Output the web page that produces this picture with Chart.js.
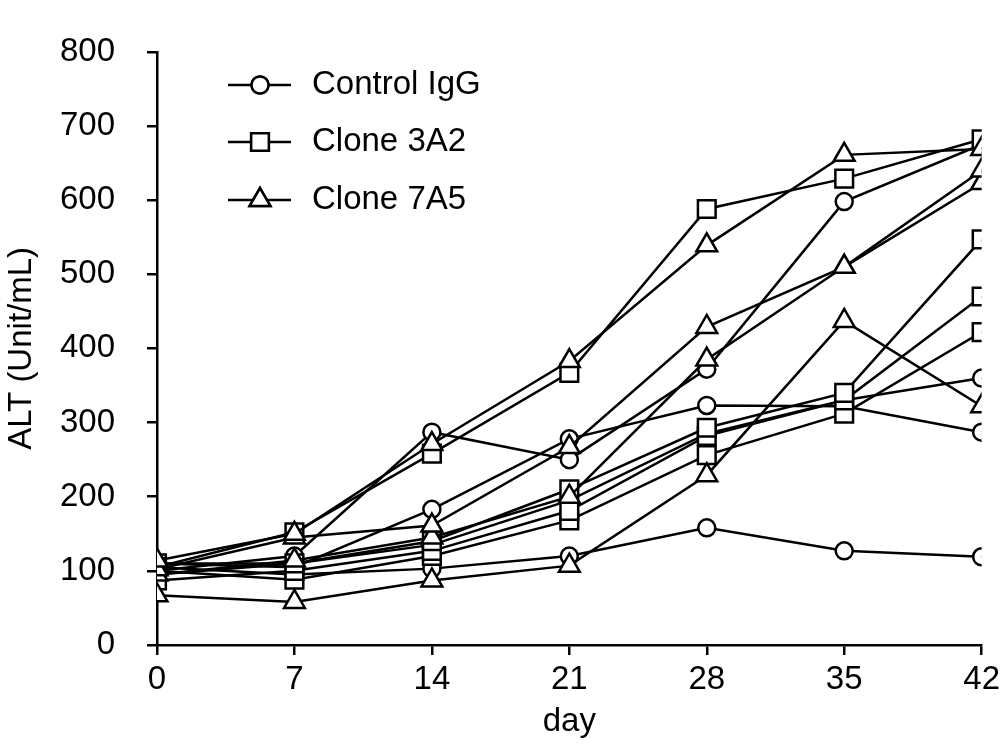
<!DOCTYPE html>
<html>
<head>
  <meta charset="utf-8" />
  <title>ALT (Unit/mL) by day</title>
  <script src="https://cdn.jsdelivr.net/npm/chart.js"></script>
  <style>
    body { margin: 0; background: #fff; }
  </style>
</head>
<body>
  <canvas id="altChart" width="1005" height="744"></canvas>

  <script>
    // x axis: sampling days
    const days = [0, 7, 14, 21, 28, 35, 42];
    const yTickStep = 100;
    const yMax = 800;

    // one legend entry per group
    const groupNames = ['Control IgG', 'Clone 3A2', 'Clone 7A5'];

    // Control IgG (circles), one array per animal
    const controlIgG1 = [100, 120, 287, 250, 372, 598, 675];
    const controlIgG2 = [110, 105, 183, 278, 323, 322, 287];
    const controlIgG3 = [95, 110, 135, 195, 285, 330, 360];
    const controlIgG4 = [105, 95, 103, 120, 158, 127, 119];

    // Clone 3A2 (squares)
    const clone3A2_1 = [105, 152, 258, 367, 588, 629, 682];
    const clone3A2_2 = [110, 110, 140, 210, 293, 340, 547];
    const clone3A2_3 = [87, 100, 127, 181, 282, 330, 470];
    const clone3A2_4 = [100, 88, 120, 168, 256, 312, 422];

    // Clone 7A5 (triangles)
    const clone7A5_1 = [114, 150, 271, 383, 539, 661, 669];
    const clone7A5_2 = [102, 145, 161, 267, 429, 510, 640];
    const clone7A5_3 = [95, 114, 145, 200, 385, 510, 623];
    const clone7A5_4 = [67, 58, 87, 107, 229, 437, 322];

    // drawOrder: higher numbers are drawn underneath
    const groups = [
      { name: groupNames[0], style: 'circle', radius: 8.5, drawOrder: 3, series: [controlIgG1, controlIgG2, controlIgG3, controlIgG4] },
      { name: groupNames[1], style: 'rect', radius: 12.5, drawOrder: 2, series: [clone3A2_1, clone3A2_2, clone3A2_3, clone3A2_4] },
      { name: groupNames[2], style: 'triangle', radius: 12, drawOrder: 1, series: [clone7A5_1, clone7A5_2, clone7A5_3, clone7A5_4] }
    ];

    const FONT = '"Liberation Sans", Arial, sans-serif';
    const FONT_SIZE = 33;

    // Build datasets
    const datasets = [];
    groups.forEach(g => {
      g.series.forEach((vals, k) => {
        datasets.push({
          label: g.name + ' ' + (k + 1),
          data: days.map((d, i) => ({ x: d, y: vals[i] })),
          order: g.drawOrder,
          borderColor: '#000',
          backgroundColor: '#fff',
          borderWidth: 2.5,
          pointStyle: g.style,
          pointRadius: g.radius,
          pointBorderWidth: 2.5,
          pointBackgroundColor: '#fff',
          pointBorderColor: '#000',
          tension: 0,
          fill: false
        });
      });
    });

    // Legend drawn inside the plot area, top-left
    const insideLegend = {
      id: 'insideLegend',
      afterDraw(chart) {
        const ctx = chart.ctx;
        const rows = [85, 142, 200];
        ctx.save();
        groups.forEach((g, i) => {
          const y = rows[i];
          ctx.strokeStyle = '#000';
          ctx.lineWidth = 2.5;
          ctx.beginPath();
          ctx.moveTo(228, y);
          ctx.lineTo(291, y);
          ctx.stroke();
          ctx.fillStyle = '#fff';
          Chart.helpers.drawPoint(ctx, {
            pointStyle: g.style,
            radius: g.radius,
            borderWidth: 2.5
          }, 260, y);
          ctx.fill();
          ctx.stroke();
          ctx.fillStyle = '#000';
          ctx.font = FONT_SIZE + 'px ' + FONT;
          ctx.textBaseline = 'middle';
          ctx.textAlign = 'left';
          ctx.fillText(g.name, 312, y);
        });
        ctx.restore();
      }
    };

    const ctx = document.getElementById('altChart').getContext('2d');
    new Chart(ctx, {
      type: 'line',
      data: { datasets: datasets },
      plugins: [insideLegend],
      options: {
        responsive: false,
        animation: false,
        layout: { padding: { top: 26, right: 23, left: 0, bottom: 0 } },
        plugins: {
          legend: { display: false },
          tooltip: { enabled: false }
        },
        scales: {
          x: {
            type: 'linear',
            min: 0,
            max: 42,
            afterFit(scale) { scale.height = 99; },
            ticks: {
              stepSize: 7,
              color: '#000',
              font: { family: FONT, size: FONT_SIZE },
              padding: 5
            },
            grid: {
              drawOnChartArea: false,
              drawTicks: true,
              tickLength: 10,
              color: '#000',
              lineWidth: 2.5
            },
            border: { display: true, color: '#000', width: 2.5 },
            title: {
              display: true,
              text: 'day',
              color: '#000',
              font: { family: FONT, size: FONT_SIZE },
              padding: { top: 0, bottom: 2 }
            }
          },
          y: {
            min: 0,
            max: yMax,
            afterFit(scale) { scale.width = 157; },
            ticks: {
              stepSize: yTickStep,
              color: '#000',
              font: { family: FONT, size: FONT_SIZE },
              padding: 32
            },
            grid: {
              drawOnChartArea: false,
              drawTicks: true,
              tickLength: 10,
              color: '#000',
              lineWidth: 2.5
            },
            border: { display: true, color: '#000', width: 2.5 },
            title: {
              display: true,
              text: 'ALT (Unit/mL)',
              color: '#000',
              font: { family: FONT, size: FONT_SIZE },
              padding: { top: 2, bottom: 0 }
            }
          }
        }
      }
    });
  </script>
</body>
</html>
